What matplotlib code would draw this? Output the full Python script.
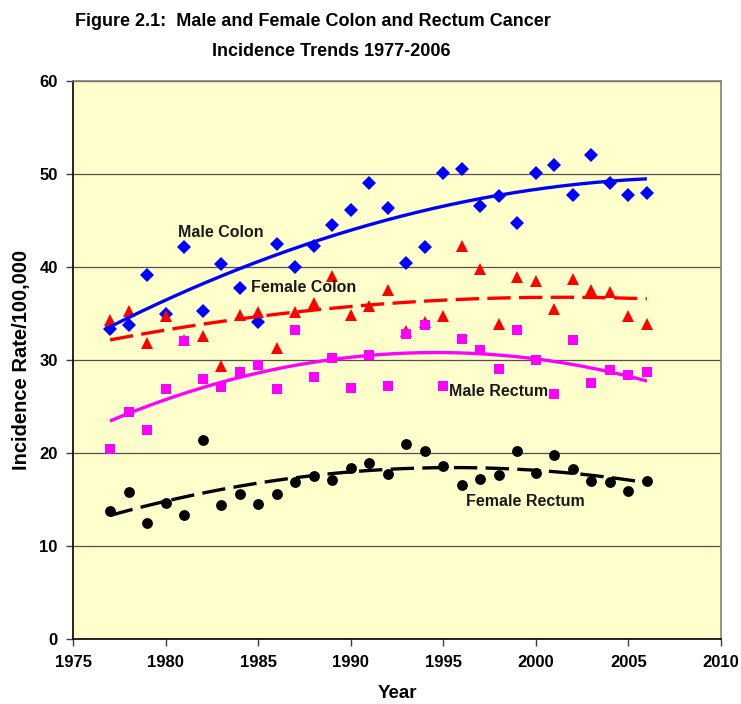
import matplotlib
matplotlib.use("Agg")
import matplotlib.pyplot as plt
import numpy as np

# %% Data

years = np.arange(1977, 2007)

male_colon = [33.3, 33.8, 39.2, 35.0, 42.2, 35.3, 40.3, 37.8, 34.1, 42.5,
              40.0, 42.3, 44.5, 46.1, 49.0, 46.3, 40.4, 42.2, 50.1, 50.5,
              46.6, 47.6, 44.7, 50.1, 51.0, 47.8, 52.0, 49.0, 47.8, 48.0]

female_colon = [34.3, 35.3, 31.8, 34.7, 32.2, 32.6, 29.4, 34.8, 35.2, 31.3,
                35.2, 36.1, 39.0, 34.8, 35.8, 37.5, 33.1, 34.1, 34.7, 42.3,
                39.8, 33.9, 38.9, 38.5, 35.5, 38.7, 37.5, 37.3, 34.7, 33.9]

male_rectum = [20.5, 24.4, 22.5, 26.9, 32.1, 28.0, 27.1, 28.7, 29.5, 26.9,
               33.2, 28.2, 30.2, 27.0, 30.5, 27.2, 32.8, 33.8, 27.2, 32.3,
               31.1, 29.0, 33.2, 30.0, 26.4, 32.2, 27.5, 28.9, 28.4, 28.7]

female_rectum = [13.8, 15.8, 12.5, 14.7, 13.4, 21.4, 14.4, 15.6, 14.5, 15.6,
                 16.9, 17.6, 17.1, 18.4, 18.9, 17.8, 21.0, 20.2, 18.6, 16.6,
                 17.2, 17.7, 20.2, 17.9, 19.8, 18.3, 17.0, 16.9, 15.9, 17.0]

# (name, values, color, marker, size, trend style, label position)
SERIES = [
    ("Male Colon", male_colon, "#0000FF", "D", 7, "-", (1980.67, 43.67)),
    ("Female Colon", female_colon, "#FF0000", "^", 8.5, (0, (7, 2.5)), (1984.6, 37.8)),
    ("Male Rectum", male_rectum, "#FF00FF", "s", 7.2, "-", (1995.33, 26.6)),
    ("Female Rectum", female_rectum, "#000000", "o", 7.8, (0, (7, 2.5)), (1996.23, 14.8)),
]

# %% Plot

plt.rcParams["font.family"] = ["Liberation Sans", "DejaVu Sans"]

fig = plt.figure(figsize=(7.41, 7.04), dpi=100)
ax = fig.add_axes([73 / 741, 1 - 639.3 / 704, 648 / 741, 558.3 / 704])
ax.set_facecolor("#FFFFCC")

xs = np.linspace(1977, 2006, 200)
for name, vals, color, marker, ms, ls, (tx, ty) in SERIES:
    ax.plot(years, vals, linestyle="none", marker=marker, color=color,
            markersize=ms, markeredgewidth=0, zorder=3)
    coef = np.polyfit(years, vals, 2)
    ax.plot(xs, np.polyval(coef, xs), color=color, linestyle=ls,
            linewidth=2.4, zorder=4, solid_capstyle="butt", dash_capstyle="butt")
    ax.text(tx, ty, name, ha="left", va="center", fontsize=11.5,
            fontweight="bold", color="#1a1a1a", zorder=5)

ax.set_xlim(1975, 2010)
ax.set_ylim(0, 60)
ax.set_xticks(np.arange(1975, 2011, 5))
ax.set_yticks(np.arange(0, 61, 10))
ax.yaxis.grid(True, color="#505050", linewidth=0.9)
ax.set_axisbelow(True)

for lab in ax.get_xticklabels() + ax.get_yticklabels():
    lab.set_fontweight("bold")
ax.tick_params(labelsize=12, direction="out", length=5, width=1,
               color="#404040", pad=6)

ax.spines["left"].set_color("black")
ax.spines["bottom"].set_color("black")
ax.spines["top"].set_color("#808080")
ax.spines["right"].set_color("#808080")
for s in ax.spines.values():
    s.set_linewidth(1.2)

ax.set_xlabel("Year", fontsize=13.5, fontweight="bold", labelpad=11)
ax.set_ylabel("Incidence Rate/100,000", fontsize=14.5, fontweight="bold", labelpad=6)

fig.text(312.5 / 741, 1 - 21 / 704,
         "Figure 2.1:  Male and Female Colon and Rectum Cancer",
         ha="center", va="center", fontsize=13, fontweight="bold")
fig.text(331 / 741, 1 - 52 / 704, "Incidence Trends 1977-2006",
         ha="center", va="center", fontsize=13, fontweight="bold")

fig.savefig("out.png", dpi=100)
